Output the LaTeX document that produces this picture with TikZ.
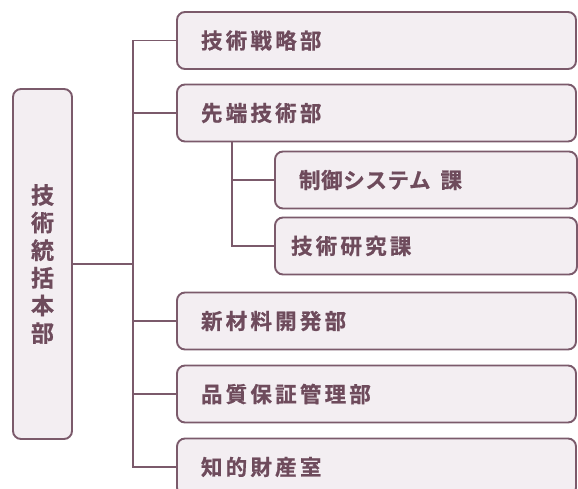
\documentclass[tikz,border=0pt]{standalone}
\usepackage{fontspec}
\newfontfamily\jp{Noto Sans CJK JP Bold}[FakeBold=0.8]
\definecolor{edge}{HTML}{7B5A6B}
\definecolor{boxfill}{HTML}{F3EEF2}
\definecolor{txt}{HTML}{6E4B5C}
\begin{document}
\begin{tikzpicture}[x=1pt,y=-1pt,
  box/.style={draw=edge,fill=boxfill,line width=1.9pt,rounded corners=8pt,
    minimum height=57pt,inner ysep=0pt,align=left,text=txt,
    font=\jp\fontsize{21.5}{22}\selectfont\addfontfeature{LetterSpace=15}},
  dept/.style={box,inner xsep=24pt,text width=351pt},
  sect/.style={box,inner xsep=#1,text width=302pt-2*#1},
  conn/.style={draw=edge,line width=1.9pt}]
\useasboundingbox (0,0) rectangle (578,489);
\clip (0,0) rectangle (578,489);
\node[draw=edge,fill=boxfill,line width=1.9pt,rounded corners=8pt,
  minimum width=59pt,minimum height=350pt,inner sep=0pt,text=txt,
  align=center,font=\jp\fontsize{23}{27.6}\selectfont] (hq) at (42.5,264)
  {技\\術\\統\\括\\本\\部};
\node[dept] (d1) at (376.5,40.5) {技術戦略部};
\node[dept] (d2) at (376.5,113) {先端技術部};
\node[sect=24pt] (s1) at (426,180) {{\addfontfeature{LetterSpace=3}制御システム}\hspace{10pt}課};
\node[sect=16pt] (s2) at (426,246) {技術研究課};
\node[dept] (d4) at (376.5,321) {新材料開発部};
\node[dept] (d5) at (376.5,394) {品質保証管理部};
\node[dept] (d6) at (376.5,467) {知的財産室};
\coordinate (trunk) at (133,264);
\coordinate (sub) at (232,0);
\draw[conn] (hq.east) -- (trunk);
\draw[conn] (d1.west) -| (trunk |- d6.west) -- (d6.west);
\draw[conn] (trunk |- d2.west) -- (d2.west);
\draw[conn] (trunk |- d4.west) -- (d4.west);
\draw[conn] (trunk |- d5.west) -- (d5.west);
\draw[conn] (sub |- d2.south) -- (sub |- s2.west) -- (s2.west);
\draw[conn] (sub |- s1.west) -- (s1.west);
\end{tikzpicture}
\end{document}
